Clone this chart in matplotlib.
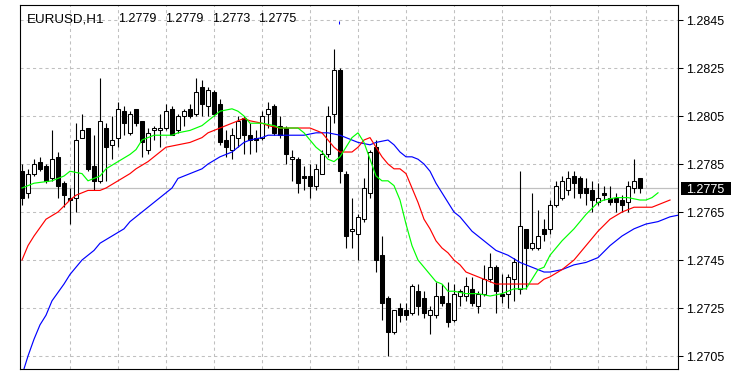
import matplotlib
matplotlib.use('Agg')
from matplotlib import pyplot as plt
from matplotlib import transforms
from matplotlib.patches import Rectangle
import numpy as np

plt.rcParams['font.family'] = ['Liberation Sans', 'DejaVu Sans']

symbol = 'EURUSD,H1'

# hourly candles, oldest first
opens = [1.2782, 1.2773, 1.2781, 1.2786, 1.2784, 1.2779, 1.2788, 1.2777, 1.2771, 1.2771,
         1.2796, 1.2800, 1.2784, 1.2778, 1.2800, 1.2793, 1.2796, 1.2807, 1.2798, 1.2808,
         1.2803, 1.2791, 1.2799, 1.2799, 1.2800, 1.2808, 1.2799, 1.2805, 1.2808, 1.2806,
         1.2817, 1.2809, 1.2815, 1.2810, 1.2795, 1.2791, 1.2796, 1.2804, 1.2797, 1.2796,
         1.2796, 1.2806, 1.2809, 1.2801, 1.2800, 1.2787, 1.2787, 1.2780, 1.2780, 1.2776,
         1.2781, 1.2789, 1.2806, 1.2824, 1.2781, 1.2757, 1.2756, 1.2762, 1.2773, 1.2792,
         1.2747, 1.2729, 1.2715, 1.2725, 1.2724, 1.2723, 1.2732, 1.2729, 1.2722, 1.2722,
         1.2730, 1.2727, 1.2720, 1.2730, 1.2730, 1.2733, 1.2726, 1.2731, 1.2737, 1.2742,
         1.2731, 1.2731, 1.2737, 1.2733, 1.2758, 1.2750, 1.2750, 1.2758, 1.2758, 1.2768,
         1.2771, 1.2774, 1.2780, 1.2779, 1.2775, 1.2774, 1.2769, 1.2773, 1.2771, 1.2771,
         1.2770, 1.2769, 1.2775, 1.2779]
highs = [1.2785, 1.2783, 1.2787, 1.2788, 1.2785, 1.2799, 1.2790, 1.2778, 1.2775, 1.2802,
         1.2806, 1.2800, 1.2797, 1.2821, 1.2802, 1.2805, 1.2811, 1.2809, 1.2807, 1.2808,
         1.2803, 1.2800, 1.2801, 1.2806, 1.2810, 1.2809, 1.2806, 1.2808, 1.2810, 1.2821,
         1.2820, 1.2817, 1.2816, 1.2812, 1.2799, 1.2800, 1.2805, 1.2805, 1.2802, 1.2799,
         1.2807, 1.2811, 1.2810, 1.2805, 1.2801, 1.2791, 1.2788, 1.2784, 1.2785, 1.2785,
         1.2791, 1.2809, 1.2833, 1.2825, 1.2782, 1.2771, 1.2764, 1.2779, 1.2791, 1.2795,
         1.2755, 1.2730, 1.2724, 1.2727, 1.2727, 1.2735, 1.2735, 1.2732, 1.2726, 1.2736,
         1.2735, 1.2736, 1.2735, 1.2733, 1.2738, 1.2738, 1.2732, 1.2743, 1.2748, 1.2743,
         1.2739, 1.2739, 1.2746, 1.2782, 1.2758, 1.2773, 1.2766, 1.2762, 1.2770, 1.2778,
         1.2780, 1.2782, 1.2782, 1.2780, 1.2779, 1.2778, 1.2777, 1.2776, 1.2776, 1.2773,
         1.2772, 1.2778, 1.2787, 1.2779]
lows = [1.2768, 1.2771, 1.2780, 1.2782, 1.2777, 1.2778, 1.2771, 1.2767, 1.2760, 1.2765,
        1.2796, 1.2782, 1.2774, 1.2777, 1.2778, 1.2787, 1.2792, 1.2797, 1.2797, 1.2801,
        1.2788, 1.2789, 1.2795, 1.2792, 1.2799, 1.2797, 1.2798, 1.2801, 1.2804, 1.2805,
        1.2805, 1.2805, 1.2805, 1.2793, 1.2788, 1.2787, 1.2792, 1.2789, 1.2789, 1.2790,
        1.2795, 1.2800, 1.2797, 1.2796, 1.2785, 1.2778, 1.2773, 1.2774, 1.2771, 1.2774,
        1.2781, 1.2788, 1.2802, 1.2777, 1.2750, 1.2750, 1.2745, 1.2761, 1.2771, 1.2740,
        1.2720, 1.2705, 1.2714, 1.2719, 1.2720, 1.2722, 1.2722, 1.2721, 1.2714, 1.2721,
        1.2726, 1.2717, 1.2719, 1.2726, 1.2728, 1.2726, 1.2723, 1.2730, 1.2736, 1.2723,
        1.2727, 1.2725, 1.2728, 1.2731, 1.2733, 1.2749, 1.2749, 1.2753, 1.2756, 1.2767,
        1.2770, 1.2772, 1.2771, 1.2771, 1.2768, 1.2765, 1.2768, 1.2770, 1.2768, 1.2765,
        1.2765, 1.2765, 1.2773, 1.2773]
closes = [1.2771, 1.2781, 1.2785, 1.2783, 1.2778, 1.2787, 1.2776, 1.2772, 1.2770, 1.2795,
          1.2799, 1.2783, 1.2778, 1.2803, 1.2792, 1.2795, 1.2808, 1.2802, 1.2806, 1.2802,
          1.2794, 1.2798, 1.2800, 1.2800, 1.2807, 1.2797, 1.2805, 1.2807, 1.2805, 1.2815,
          1.2810, 1.2816, 1.2806, 1.2794, 1.2792, 1.2797, 1.2803, 1.2797, 1.2795, 1.2795,
          1.2805, 1.2808, 1.2798, 1.2797, 1.2789, 1.2788, 1.2777, 1.2779, 1.2776, 1.2783,
          1.2789, 1.2805, 1.2824, 1.2782, 1.2755, 1.2758, 1.2763, 1.2775, 1.2790, 1.2745,
          1.2727, 1.2715, 1.2724, 1.2722, 1.2722, 1.2734, 1.2726, 1.2723, 1.2724, 1.2730,
          1.2727, 1.2719, 1.2731, 1.2732, 1.2734, 1.2727, 1.2731, 1.2737, 1.2742, 1.2732,
          1.2730, 1.2738, 1.2744, 1.2759, 1.2750, 1.2752, 1.2755, 1.2756, 1.2768, 1.2776,
          1.2778, 1.2779, 1.2777, 1.2773, 1.2773, 1.2770, 1.2771, 1.2772, 1.2769, 1.2769,
          1.2768, 1.2776, 1.2778, 1.2775]

# alligator: jaw (blue), teeth (red), lips (green), already shifted forward
jaw_bars = [0, 1, 2, 3, 4, 5, 7, 8, 10, 12, 13, 15, 17, 18, 20, 22, 23, 25, 26, 28,
            30, 31, 33, 35, 36, 37, 38, 40, 41, 43, 45, 47, 49, 51, 53, 54, 56, 58, 59, 61,
            62, 63, 64, 65, 66, 67, 68, 69, 70, 71, 72, 73, 74, 75, 76, 77, 79, 81, 83, 85,
            87, 88, 90, 92, 94, 96, 98, 100, 102, 104, 106, 108, 110]
jaw_vals = [1.2697, 1.2705, 1.2712, 1.2718, 1.2722, 1.2728, 1.2735, 1.2739, 1.2745, 1.2749,
            1.2752, 1.2755, 1.2758, 1.2761, 1.2765, 1.2769, 1.2771, 1.2775, 1.2779, 1.2781,
            1.2783, 1.2785, 1.2788, 1.2790, 1.2792, 1.2794, 1.2795, 1.2796, 1.2797, 1.2797,
            1.2797, 1.2797, 1.2798, 1.2798, 1.2797, 1.2796, 1.2794, 1.2793, 1.2794, 1.2795,
            1.2793, 1.2790, 1.2788, 1.2788, 1.2787, 1.2785, 1.2782, 1.2777, 1.2773, 1.2769,
            1.2765, 1.2763, 1.2760, 1.2757, 1.2755, 1.2753, 1.2749, 1.2747, 1.2744, 1.2742,
            1.2740, 1.2740, 1.2741, 1.2743, 1.2744, 1.2746, 1.2751, 1.2755, 1.2758, 1.2760,
            1.2761, 1.2763, 1.2764]
teeth_bars = [0, 1, 2, 4, 6, 8, 9, 11, 13, 14, 16, 18, 19, 21, 23, 24, 26, 28, 30, 31,
              33, 35, 37, 38, 40, 41, 43, 45, 47, 48, 49, 50, 51, 52, 53, 54, 55, 56, 57, 58,
              59, 60, 61, 62, 63, 64, 65, 66, 67, 68, 69, 70, 71, 72, 73, 74, 75, 77, 79, 81,
              83, 85, 86, 87, 88, 90, 92, 94, 96, 98, 100, 102, 104, 105, 106, 107, 108]
teeth_vals = [1.2745, 1.2751, 1.2755, 1.2762, 1.2765, 1.2770, 1.2772, 1.2774, 1.2774, 1.2775,
              1.2778, 1.2781, 1.2783, 1.2786, 1.2790, 1.2792, 1.2793, 1.2794, 1.2796, 1.2798,
              1.2800, 1.2802, 1.2804, 1.2803, 1.2802, 1.2801, 1.2800, 1.2800, 1.2800, 1.2800,
              1.2799, 1.2798, 1.2795, 1.2792, 1.2790, 1.2790, 1.2790, 1.2792, 1.2795, 1.2796,
              1.2792, 1.2788, 1.2785, 1.2783, 1.2783, 1.2781, 1.2775, 1.2769, 1.2762, 1.2758,
              1.2753, 1.2750, 1.2748, 1.2745, 1.2743, 1.2740, 1.2739, 1.2737, 1.2735, 1.2735,
              1.2735, 1.2735, 1.2735, 1.2737, 1.2738, 1.2741, 1.2745, 1.2751, 1.2757, 1.2762,
              1.2765, 1.2767, 1.2767, 1.2767, 1.2768, 1.2769, 1.2770]
lips_bars = [0, 2, 5, 7, 8, 10, 11, 13, 14, 16, 18, 19, 20, 22, 24, 25, 26, 28, 30, 31,
             33, 35, 36, 37, 38, 40, 42, 43, 44, 46, 47, 48, 49, 50, 51, 52, 53, 54, 55, 56,
             57, 58, 59, 60, 61, 62, 63, 64, 65, 66, 67, 68, 69, 70, 71, 72, 74, 76, 78, 80,
             82, 84, 85, 86, 87, 88, 90, 92, 94, 96, 97, 99, 101, 103, 104, 105, 106]
lips_vals = [1.2775, 1.2777, 1.2778, 1.2780, 1.2782, 1.2781, 1.2778, 1.2780, 1.2783, 1.2786,
             1.2789, 1.2791, 1.2795, 1.2797, 1.2797, 1.2797, 1.2798, 1.2799, 1.2801, 1.2803,
             1.2807, 1.2808, 1.2807, 1.2805, 1.2802, 1.2802, 1.2801, 1.2800, 1.2800, 1.2800,
             1.2798, 1.2795, 1.2792, 1.2790, 1.2787, 1.2786, 1.2788, 1.2792, 1.2796, 1.2798,
             1.2794, 1.2787, 1.2780, 1.2778, 1.2778, 1.2776, 1.2770, 1.2760, 1.2751, 1.2745,
             1.2742, 1.2739, 1.2736, 1.2735, 1.2732, 1.2732, 1.2731, 1.2731, 1.2730, 1.2731,
             1.2733, 1.2733, 1.2737, 1.2741, 1.2742, 1.2747, 1.2753, 1.2758, 1.2764, 1.2769,
             1.2770, 1.2771, 1.2771, 1.2770, 1.2770, 1.2771, 1.2773]

price_ticks = [1.2705, 1.2725, 1.2745, 1.2765, 1.2785, 1.2805, 1.2825, 1.2845]
grid_bars = [8, 16, 24, 32, 40, 48, 56, 64, 72, 80, 88, 96, 104]
blue_mark = (52.8, 1.28433, 1.28446)

W, H = 739, 372
fig = plt.figure(figsize=(W / 100, H / 100), dpi=100)
fig.patch.set_facecolor('white')
ax = fig.add_axes([20 / W, 3 / H, 658 / W, 364 / H])
ax.set_xlim(-1 / 3, 109 + 1 / 3)
ax.set_ylim(1.26996, 1.285125)

grid_kw = dict(color='#c0c0c0', lw=0.75, ls=(0, (3, 3)), zorder=0)
for p in price_ticks:
    ax.axhline(p, **grid_kw)
for b in grid_bars:
    ax.axvline(b, **grid_kw)
ax.axhline(closes[-1], color='#c0c0c0', lw=0.9, zorder=1)

o = np.array(opens)
h = np.array(highs)
l = np.array(lows)
c = np.array(closes)
x = np.arange(len(o))
ax.vlines(x, l, h, color='black', lw=0.8, zorder=2)
faces = ['white' if cc >= oo else 'black' for oo, cc in zip(o, c)]
ax.bar(x, np.abs(c - o), bottom=np.minimum(o, c), width=0.6, color=faces,
       edgecolor='black', linewidth=0.75, zorder=3)

ax.plot(jaw_bars, jaw_vals, color='#0000ff', lw=0.85, zorder=4)
ax.plot(teeth_bars, teeth_vals, color='#ff0000', lw=0.85, zorder=4)
ax.plot(lips_bars, lips_vals, color='#00ff00', lw=0.85, zorder=4)
ax.vlines(blue_mark[0], blue_mark[1], blue_mark[2], color='#0000ff', lw=0.75, zorder=4)

for s in ax.spines.values():
    s.set_color('black')
    s.set_linewidth(0.8)
ax.set_xticks([])
ax.yaxis.tick_right()
ax.set_yticks(price_ticks)
ax.set_yticklabels([f'{p:.4f}' for p in price_ticks])
ax.tick_params(axis='y', direction='out', length=3.6, width=0.75, pad=2.5,
               labelsize=9, colors='black')

# header: symbol and last bar OHLC
fig.text(27 / W, 1 - 18 / H, symbol, fontsize=9.6, va='center_baseline')
for xp, v in zip([118, 165, 212, 258], [opens[-1], highs[-1], lows[-1], closes[-1]]):
    fig.text(xp / W, 1 - 18 / H, f'{v:.4f}', fontsize=9, va='center_baseline')

# bid label on the price scale
trans = transforms.blended_transform_factory(fig.transFigure, ax.transData)
px = (ax.get_ylim()[1] - ax.get_ylim()[0]) / 364
ax.add_patch(Rectangle((681 / W, closes[-1] - 6.5 * px), 50 / W, 13 * px,
                       transform=trans, facecolor='black', edgecolor='none',
                       clip_on=False, zorder=5))
ax.text(686.5 / W, closes[-1], f'{closes[-1]:.4f}', transform=trans, color='white',
        fontsize=9, va='center_baseline', ha='left', clip_on=False, zorder=6)

fig.savefig('out.png', dpi=100)
